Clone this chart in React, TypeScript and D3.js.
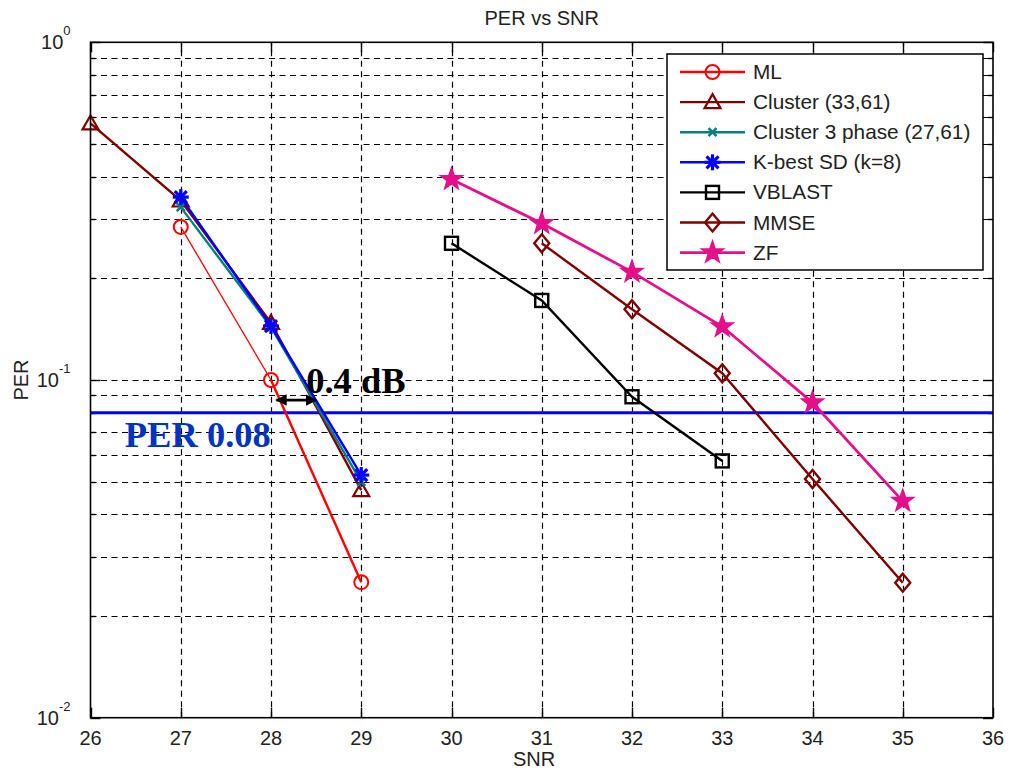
import React from "react";
import * as d3 from "d3";

// PER vs SNR
const mlSnr = [27, 28, 29];
const mlPer = [0.284, 0.1, 0.0252];
const clusterSnr = [26, 27, 28, 29];
const clusterPer = [0.575, 0.34, 0.1475, 0.0472];
const cluster3Snr = [27, 28, 29];
const cluster3Per = [0.325, 0.1435, 0.0499];
const kbestSnr = [27, 28, 29];
const kbestPer = [0.348, 0.1445, 0.0523];
const vblastSnr = [30, 31, 32, 33];
const vblastPer = [0.254, 0.172, 0.0892, 0.0576];
const mmseSnr = [31, 32, 33, 34, 35];
const mmsePer = [0.254, 0.162, 0.1047, 0.0509, 0.0251];
const zfSnr = [30, 31, 32, 33, 34, 35];
const zfPer = [0.393, 0.291, 0.209, 0.144, 0.0857, 0.0438];

const xTicks = [26, 27, 28, 29, 30, 31, 32, 33, 34, 35, 36];
const yDecades = [1, 0.1, 0.01];
const yDecadeLabels = ["0", "-1", "-2"];

const perLine = 0.08;
const gapFrom = 28.06;
const gapTo = 28.5;

const series = [
  { name: "ML", snr: mlSnr, per: mlPer, color: "#ff0000", marker: "o", width: 2.4 },
  { name: "Cluster (33,61)", snr: clusterSnr, per: clusterPer, color: "#800000", marker: "^", width: 2.4 },
  { name: "Cluster 3 phase (27,61)", snr: cluster3Snr, per: cluster3Per, color: "#008080", marker: "x", width: 2.4 },
  { name: "K-best SD (k=8)", snr: kbestSnr, per: kbestPer, color: "#0000ff", marker: "*", width: 2.4 },
  { name: "VBLAST", snr: vblastSnr, per: vblastPer, color: "#000000", marker: "s", width: 2.4 },
  { name: "MMSE", snr: mmseSnr, per: mmsePer, color: "#800000", marker: "d", width: 2.4 },
  { name: "ZF", snr: zfSnr, per: zfPer, color: "#e4108a", marker: "p", width: 2.8 },
];

const W = 1009;
const H = 776;
const margin = { top: 42.3, right: 16, bottom: 58.3, left: 90.5 };

const x = d3.scaleLinear().domain([26, 36]).range([margin.left, W - margin.right]);
const y = d3.scaleLog().domain([0.01, 1]).range([H - margin.bottom, margin.top]);

// snap a coordinate to the pixel centre so 1px lines stay sharp
const px = (v: number) => Math.round(v) + 0.5;

const star = (cx: number, cy: number, R: number) => {
  const pts: string[] = [];
  for (let i = 0; i < 10; i++) {
    const r = i % 2 === 0 ? R : R * 0.4;
    const a = -Math.PI / 2 + (i * Math.PI) / 5;
    pts.push(`${cx + r * Math.cos(a)},${cy + r * Math.sin(a)}`);
  }
  return "M" + pts.join("L") + "Z";
};

const Marker = ({ type, cx, cy, color }: { type: string; cx: number; cy: number; color: string }) => {
  switch (type) {
    case "o":
      return <circle cx={cx} cy={cy} r={7} fill="none" stroke={color} strokeWidth={2} />;
    case "^":
      return (
        <path
          d={`M${cx},${cy - 8}L${cx + 8},${cy + 6}L${cx - 8},${cy + 6}Z`}
          fill="none" stroke={color} strokeWidth={2.2}
        />
      );
    case "x":
      return (
        <g stroke={color} strokeWidth={2.6}>
          <line x1={cx - 4} y1={cy - 4} x2={cx + 4} y2={cy + 4} />
          <line x1={cx - 4} y1={cy + 4} x2={cx + 4} y2={cy - 4} />
        </g>
      );
    case "*":
      return (
        <g stroke={color} strokeWidth={3.2}>
          <line x1={cx - 8} y1={cy} x2={cx + 8} y2={cy} />
          <line x1={cx} y1={cy - 8} x2={cx} y2={cy + 8} />
          <line x1={cx - 6} y1={cy - 6} x2={cx + 6} y2={cy + 6} />
          <line x1={cx - 6} y1={cy + 6} x2={cx + 6} y2={cy - 6} />
        </g>
      );
    case "s":
      return <rect x={cx - 6.5} y={cy - 6.5} width={13} height={13} fill="none" stroke={color} strokeWidth={2.4} />;
    case "d":
      return (
        <path
          d={`M${cx},${cy - 9}L${cx + 7.5},${cy}L${cx},${cy + 9}L${cx - 7.5},${cy}Z`}
          fill="none" stroke={color} strokeWidth={2.4}
        />
      );
    case "p":
      return <path d={star(cx, cy, 11.5)} fill={color} stroke={color} strokeWidth={1.5} />;
  }
  return null;
};

export default function App() {
  const line = d3
    .line<[number, number]>()
    .x((d) => x(d[0]))
    .y((d) => y(d[1]));

  const x0 = x.range()[0];
  const x1 = x.range()[1];
  const y0 = y.range()[0];
  const y1 = y.range()[1];
  const yTicks = y.ticks();
  const font = "Liberation Sans, Arial, Helvetica, sans-serif";
  const serif = "Liberation Serif, Times New Roman, serif";

  const legend = { x: 667, y: 54, w: 316, h: 216, row: 30.1 };

  return (
    <svg width={W} height={H} style={{ position: "absolute", left: 0, top: 0, background: "#fff" }}>
      <rect x={0} y={0} width={W} height={H} fill="#fff" />
      {/* grid */}
      <g stroke="#000" strokeWidth={1.2} strokeDasharray="6,4.5">
        {xTicks.slice(1, -1).map((t) => (
          <line key={"gx" + t} x1={px(x(t))} x2={px(x(t))} y1={y0} y2={y1} />
        ))}
        {yTicks
          .filter((t) => t > 0.0101 && t < 0.99)
          .map((t) => (
            <line key={"gy" + t} x1={x0} x2={x1} y1={px(y(t))} y2={px(y(t))} />
          ))}
      </g>
      {/* ticks */}
      <g stroke="#000" strokeWidth={1.4}>
        {xTicks.map((t) => (
          <g key={"tx" + t}>
            <line x1={px(x(t))} x2={px(x(t))} y1={y0} y2={y0 - 10} />
            <line x1={px(x(t))} x2={px(x(t))} y1={y1} y2={y1 + 10} />
          </g>
        ))}
        {yTicks.map((t) => {
          const major = yDecades.some((d) => Math.abs(d - t) < 1e-9);
          const len = major ? 10 : 5;
          return (
            <g key={"ty" + t}>
              <line x1={x0} x2={x0 + len} y1={px(y(t))} y2={px(y(t))} />
              <line x1={x1} x2={x1 - len} y1={px(y(t))} y2={px(y(t))} />
            </g>
          );
        })}
      </g>
      {/* tick labels */}
      <g fontFamily={font} fontSize={20} fill="#222">
        {xTicks.map((t) => (
          <text key={"lx" + t} x={x(t)} y={y0 + 27} textAnchor="middle">
            {t}
          </text>
        ))}
        {yDecades.map((d, i) => (
          <text key={"ly" + d} x={x0 - 20} y={y(d) + 7} textAnchor="end">
            10
            <tspan dy={-14} fontSize={13}>
              {yDecadeLabels[i]}
            </tspan>
          </text>
        ))}
      </g>
      {/* axis labels and title */}
      <text x={(x0 + x1) / 2} y={25} textAnchor="middle" fontFamily={font} fontSize={20} fill="#222">
        PER vs SNR
      </text>
      <text x={534} y={766} textAnchor="middle" fontFamily={font} fontSize={20} fill="#222">
        SNR
      </text>
      <text
        transform={`translate(28,${(y0 + y1) / 2}) rotate(-90)`}
        textAnchor="middle" fontFamily={font} fontSize={20} fill="#222"
      >
        PER
      </text>
      {/* PER threshold */}
      <line x1={x0} x2={x1} y1={y(perLine)} y2={y(perLine)} stroke="#0000ff" strokeWidth={3} />
      {/* series */}
      {series.map((s) => {
        const pts = s.snr.map((v, i) => [v, s.per[i]] as [number, number]);
        return (
          <g key={s.name}>
            {s.name === "ML" ? (
              <>
                <path d={line(pts.slice(0, 2)) || ""} fill="none" stroke={s.color} strokeWidth={1.3} />
                <path d={line(pts.slice(1)) || ""} fill="none" stroke={s.color} strokeWidth={s.width} />
              </>
            ) : (
              <path d={line(pts) || ""} fill="none" stroke={s.color} strokeWidth={s.width} />
            )}
            {pts.map((p, i) => (
              <Marker key={i} type={s.marker} cx={x(p[0])} cy={y(p[1])} color={s.color} />
            ))}
          </g>
        );
      })}
      {/* annotations */}
      <text x={x(26.38)} y={y(0.0633)} fontFamily={serif} fontWeight="bold" fontSize={36.5} fill="#0033c0">
        PER 0.08
      </text>
      <text x={x(28.39)} y={y(0.0915)} fontFamily={serif} fontWeight="bold" fontSize={36.5} fill="#000">
        0.4 dB
      </text>
      <g>
        <defs>
          <marker id="ah" viewBox="0 0 10 10" refX="9" refY="5" markerWidth="4.4" markerHeight="4.4" orient="auto-start-reverse">
            <path d="M0,0L10,5L0,10Z" fill="#000" />
          </marker>
        </defs>
        <line
          x1={x(gapFrom)} x2={x(gapTo)} y1={y(0.0872)} y2={y(0.0872)}
          stroke="#000" strokeWidth={2.6} markerStart="url(#ah)" markerEnd="url(#ah)"
        />
      </g>
      {/* axes box */}
      <rect x={x0} y={y1} width={x1 - x0} height={y0 - y1} fill="none" stroke="#000" strokeWidth={1.6} />
      {/* legend */}
      <g>
        <rect x={legend.x} y={legend.y} width={legend.w} height={legend.h} fill="#fff" stroke="#000" strokeWidth={1.5} />
        {series.map((s, i) => {
          const ly = legend.y + 18 + i * legend.row;
          return (
            <g key={"lg" + s.name}>
              <line x1={legend.x + 13} x2={legend.x + 78} y1={ly} y2={ly} stroke={s.color} strokeWidth={s.width} />
              <Marker type={s.marker} cx={legend.x + 45.5} cy={ly} color={s.color} />
              <text x={legend.x + 86} y={ly + 7} fontFamily={font} fontSize={20.8} fill="#222">
                {s.name}
              </text>
            </g>
          );
        })}
      </g>
    </svg>
  );
}
